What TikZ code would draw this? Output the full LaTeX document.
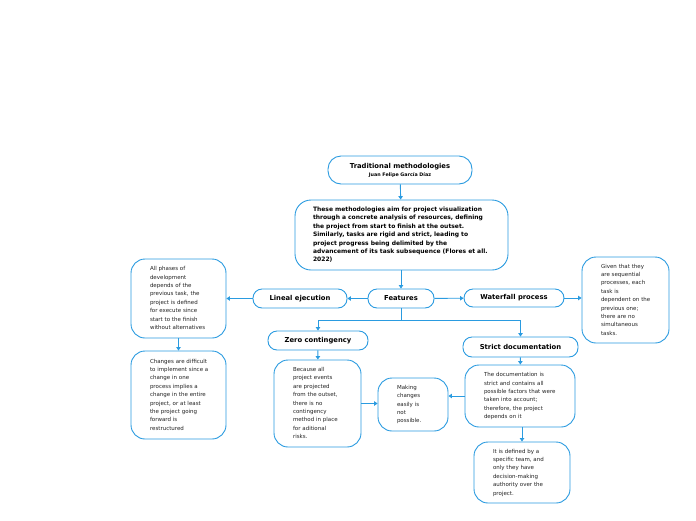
\documentclass[tikz,border=0pt]{standalone}
\usepackage{fontspec}
\setmainfont{DejaVu Sans}
\usetikzlibrary{arrows.meta}
\definecolor{mblue}{HTML}{2A9BE0}
\definecolor{txtgray}{HTML}{222222}
\newcommand{\boxlines}[1]{\begin{tabular}{@{}l@{}}#1\end{tabular}}
\begin{document}
\begin{tikzpicture}[x=1pt,y=-1pt,
  box/.style={draw=mblue,line width=0.9pt,fill=white,align=left,inner ysep=2pt},
  pill/.style={box,rounded corners=9pt,align=center,font=\bfseries\fontsize{6.8}{7.5}\selectfont},
  small/.style={box,rounded corners=14pt,inner xsep=19pt,text=txtgray,font=\fontsize{5.5}{8.4}\selectfont},
  arr/.style={draw=mblue,line width=0.9pt,-{Triangle[length=3.5pt,width=4.5pt]}}]
\useasboundingbox (0,0) rectangle (696,520);
\node[pill,rounded corners=13pt,minimum width=144pt,minimum height=28pt] (title) at (400,170)
  {Traditional methodologies\\[0.5pt]{\fontsize{4.8}{6}\selectfont Juan Felipe García Díaz}};
\node[box,rounded corners=16pt,inner xsep=18pt,text width=177pt,minimum height=70pt,
  font=\bfseries\fontsize{6.0}{8.4}\selectfont] (desc) at (401.5,235)
  {\boxlines{These methodologies aim for project visualization\\through a concrete analysis of resources, defining\\the project from start to finish at the outset.\\Similarly, tasks are rigid and strict, leading to\\project progress being delimited by the\\advancement of its task subsequence (Flores et all.\\2022)}};
\node[pill,minimum width=66pt,minimum height=19pt] (feat) at (401,298.5) {Features};
\node[pill,minimum width=94pt,minimum height=19pt] (lin) at (300,298.5) {Lineal ejecution};
\node[pill,minimum width=100pt,minimum height=18pt] (wat) at (514,298) {Waterfall process};
\node[pill,minimum width=100pt,minimum height=19pt] (zero) at (318,340.5) {Zero contingency};
\node[pill,minimum width=115pt,minimum height=20pt] (strict) at (520.5,347) {Strict documentation};
\node[small,text width=57pt,minimum height=79pt] (all) at (178.5,298.5)
  {\boxlines{All phases of\\development\\depends of the\\previous task, the\\project is defined\\for execute since\\start to the finish\\without alternatives}};
\node[small,text width=57pt,minimum height=88pt] (chg) at (178.5,395)
  {\boxlines{Changes are difficult\\to implement since a\\change in one\\process implies a\\change in the entire\\project, or at least\\the project going\\forward is\\restructured}};
\node[small,text width=49pt,minimum height=86pt] (given) at (625.5,300)
  {\boxlines{Given that they\\are sequential\\processes, each\\task is\\dependent on the\\previous one;\\there are no\\simultaneous\\tasks.}};
\node[small,text width=49pt,minimum height=87pt] (bec) at (317.5,403.5)
  {\boxlines{Because all\\project events\\are projected\\from the outset,\\there is no\\contingency\\method in place\\for aditional\\risks.}};
\node[small,text width=32pt,minimum height=53pt] (mak) at (413,404.5)
  {\boxlines{Making\\changes\\easily is\\not\\possible.}};
\node[small,text width=72pt,minimum height=62pt] (doc) at (520,396)
  {\boxlines{The documentation is\\strict and contains all\\possible factors that were\\taken into account;\\therefore, the project\\depends on it}};
\node[small,text width=58pt,minimum height=61pt] (def) at (522,472.5)
  {\boxlines{It is defined by a\\specific team, and\\only they have\\decision-making\\authority over the\\project.}};
\draw[arr] (title) -- (desc);
\draw[arr] (desc.south -| feat.north) -- (feat.north);
\draw[arr] (feat) -- (lin);
\draw[arr] (feat) -- (wat);
\draw[arr] (feat.south) -- ++(0,12) -| (zero.north);
\draw[arr] (feat.south) -- ++(0,12) -| (strict.north);
\draw[arr] (lin.west) -- (lin.west -| all.east);
\draw[arr] (wat.east) -- (wat.east -| given.west);
\draw[arr] (all) -- (chg);
\draw[arr] (zero) -- (bec);
\draw[arr] (bec.east) -- (bec.east -| mak.west);
\draw[arr] (strict) -- (doc);
\draw[arr] (doc.west) -- (doc.west -| mak.east);
\draw[arr] (doc.south -| def.north) -- (def.north);
\end{tikzpicture}
\end{document}
